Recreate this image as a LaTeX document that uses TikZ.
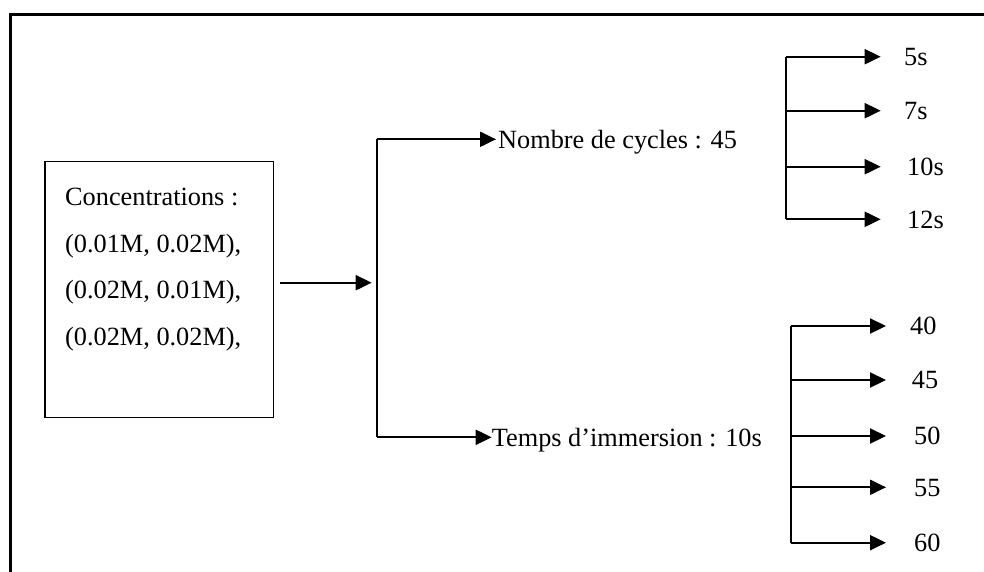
\documentclass[tikz,border=0pt]{standalone}
\usepackage{fontspec}
\setmainfont{Liberation Serif}
\usetikzlibrary{arrows.meta}
\begin{document}
\begin{tikzpicture}[x=1pt,y=-1pt,
  lbl/.style={font=\fontsize{26.3}{31}\selectfont, inner sep=0pt, text height=17.5pt, text depth=0pt, anchor=west},
  arr/.style={line width=2.1pt, -{Triangle[length=16pt,width=15pt]}},
  ln/.style={line width=2.1pt}]
\useasboundingbox (0,0) rectangle (984,571);
\begin{scope}
  \clip (0,0) rectangle (984,571);
  \draw[line width=3pt] (10.5,14.5) rectangle (1000,600);
\end{scope}

% concentration box
\node[draw, line width=1.4pt, minimum width=228.4pt, minimum height=256pt, anchor=north west, inner sep=0pt] (conc) at (44.3,160.7) {};
\node[lbl] (c1) at (65,196.7) {Concentrations :};
\node[lbl] (c2) at (65,243.5) {(0.01M, 0.02M),};
\node[lbl] (c3) at (65,290.2) {(0.02M, 0.01M),};
\node[lbl] (c4) at (65,336.9) {(0.02M, 0.02M),};

% arrow to main bracket
\coordinate (a0) at (280,282.7);
\coordinate (a1) at (371.7,282.7);
\draw[arr] (a0) -- (a1);

% main bracket
\coordinate (m1) at (376.7,139.3);
\coordinate (m2) at (376.7,437.3);
\draw[ln] (m1) -- (m2);
\node[lbl] (nb) at (498,139.3) {Nombre de cycles : 45};
\node[lbl] (tp) at (491.7,437.3) {Temps d’immersion : 10s};
\draw[arr, shorten >=2pt] (m1) -- (nb.west);
\draw[arr] (m2) -- (tp.west);

% top-right bracket
\coordinate (u0) at (786,56.7);
\coordinate (u3) at (786,219.3);
\draw[ln] (u0) -- (u3);
\foreach \y/\t/\lx [count=\i] in {56.7/5s/904,110.7/7s/904,166.7/10s/907,219.3/12s/907}{
  \coordinate (us\i) at (786,\y);
  \coordinate (ut\i) at (880.7,\y);
  \node[lbl] (ul\i) at (\lx,\y) {\t};
  \draw[arr] (us\i) -- (ut\i);
}

% bottom-right bracket
\coordinate (v0) at (791,326);
\coordinate (v4) at (791,542.7);
\draw[ln] (v0) -- (v4);
\foreach \y/\t/\lx [count=\i] in {326/40/910,380/45/911.7,436/50/914,487.3/55/914,542.7/60/914}{
  \coordinate (vs\i) at (791,\y);
  \coordinate (vt\i) at (886,\y);
  \node[lbl] (vl\i) at (\lx,\y) {\t};
  \draw[arr] (vs\i) -- (vt\i);
}
\end{tikzpicture}
\end{document}
